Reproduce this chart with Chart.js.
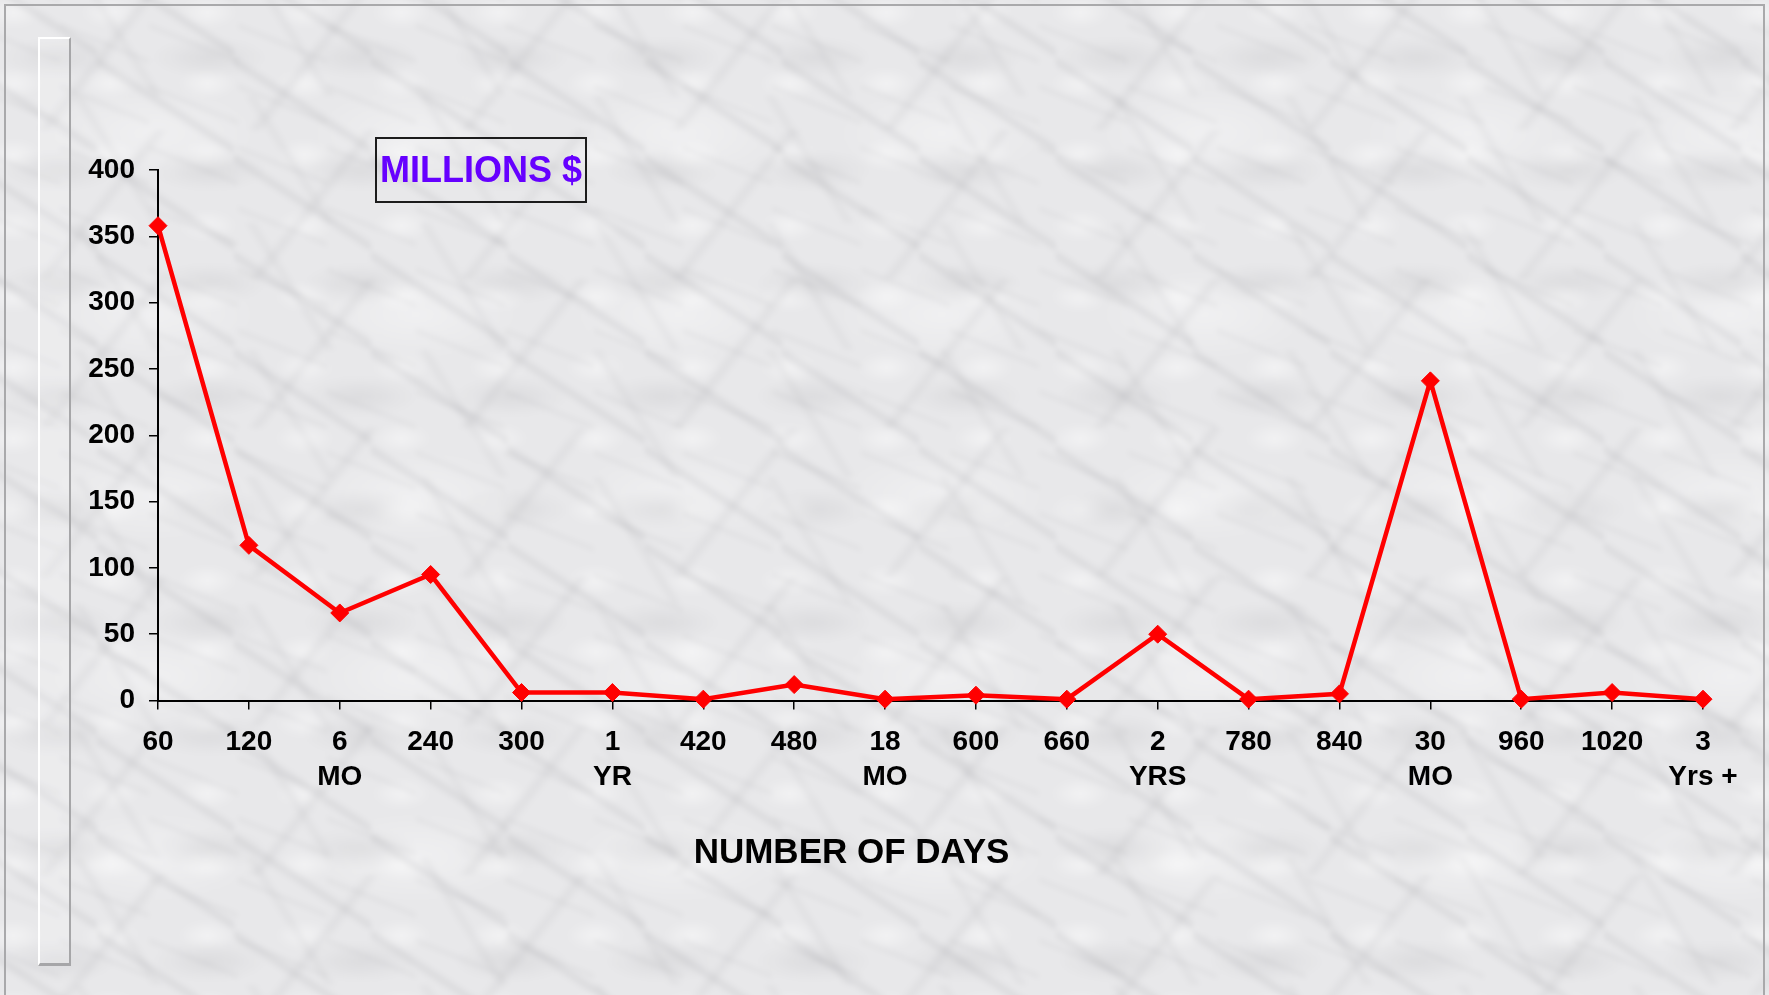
<!DOCTYPE html>
<html>
<head>
<meta charset="utf-8">
<script src="https://cdn.jsdelivr.net/npm/chart.js@4/dist/chart.umd.min.js"></script>
<style>
  html, body { margin: 0; padding: 0; width: 1769px; height: 995px; overflow: hidden; }
  body { position: relative; background-color: #e8e8ea; font-family: "Liberation Sans", Arial, sans-serif; }
  #marble {
    position: absolute; left: -40px; top: -40px; width: 1849px; height: 1075px;
    background-color: #e8e8ea;
    background-image:
      linear-gradient(33deg, rgba(120,120,126,0) 46%, rgba(120,120,126,0.12) 50%, rgba(120,120,126,0) 54%),
      linear-gradient(-52deg, rgba(120,120,126,0) 47%, rgba(120,120,126,0.08) 50%, rgba(120,120,126,0) 53%),
      linear-gradient(22deg, rgba(125,125,130,0) 46%, rgba(125,125,130,0.08) 50%, rgba(125,125,130,0) 54%),
      linear-gradient(58deg, rgba(125,125,130,0) 47%, rgba(125,125,130,0.07) 50%, rgba(125,125,130,0) 53%),
      radial-gradient(ellipse 38% 18% at 50% 50%, rgba(115,115,120,0.10), rgba(115,115,120,0) 100%),
      radial-gradient(ellipse 30% 22% at 50% 50%, rgba(255,255,255,0.45), rgba(255,255,255,0) 100%),
      radial-gradient(ellipse 40% 25% at 50% 50%, rgba(255,255,255,0.35), rgba(255,255,255,0) 100%);
    background-size: 137px 97px, 211px 149px, 89px 61px, 173px 127px, 151px 113px, 97px 71px, 263px 181px;
    background-position: 0 0, 37px 21px, 11px 53px, 71px 9px, 23px 41px, 5px 17px, 61px 83px;
    filter: blur(2.5px);
  }
  #frame {
    position: absolute; left: 4px; top: 4px; width: 1761px; height: 1000px;
    border-left: 2px solid #a9a9ab; border-top: 2px solid #a9a9ab; border-right: 2px solid #a9a9ab;
    box-sizing: border-box;
  }
  #bar {
    position: absolute; left: 38px; top: 37px; width: 33px; height: 929px;
    border-left: 2px solid #ffffff; border-top: 2px solid #ffffff;
    border-right: 2px solid #a6a6a8; border-bottom: 3px solid #a6a6a8;
    background: rgba(255,255,255,0.18);
    box-sizing: border-box;
  }
  #unit {
    position: absolute; left: 375px; top: 137px; width: 212px; height: 66px;
    border: 2px solid #1c1c1c; box-sizing: border-box;
    display: flex; align-items: center; justify-content: center;
    font: bold 36px "Liberation Sans", Arial, sans-serif; color: #6600ff;
    white-space: nowrap;
  }
  #wrap { position: absolute; left: 0; top: 0; width: 1769px; height: 995px; }
</style>
</head>
<body>
<div id="marble"></div>
<div id="frame"></div>
<div id="bar"></div>
<div id="wrap"><canvas id="c" width="1769" height="995"></canvas></div>
<div id="unit">MILLIONS $</div>
<script>
const categories = [
  '60', '120', ['6', 'MO'], '240', '300', ['1', 'YR'], '420', '480', ['18', 'MO'],
  '600', '660', ['2', 'YRS'], '780', '840', ['30', 'MO'], '960', '1020', ['3', 'Yrs +']
];
const amounts = [358, 117, 66, 95, 6, 6, 1, 12, 1, 4, 1, 50, 1, 5, 241, 1, 6, 1];
const yTicks = [0, 50, 100, 150, 200, 250, 300, 350, 400];
const xTitle = 'NUMBER OF DAYS';

const FONT = '"Liberation Sans", Arial, sans-serif';

new Chart(document.getElementById('c'), {
  type: 'line',
  data: {
    labels: categories,
    datasets: [{
      data: amounts,
      borderColor: '#ff0000',
      backgroundColor: '#ff0000',
      borderWidth: 4.5,
      tension: 0,
      pointStyle: 'rectRot',
      pointRadius: 9,
      pointHoverRadius: 9,
      pointBorderWidth: 1,
      pointBorderColor: '#ff0000',
      pointBackgroundColor: '#ff0000',
      clip: false
    }]
  },
  options: {
    responsive: false,
    devicePixelRatio: 1,
    animation: false,
    layout: { padding: { left: 0, right: 66, top: 170, bottom: 121 } },
    plugins: {
      legend: { display: false },
      tooltip: { enabled: false },
      title: {
        display: true,
        text: xTitle,
        position: 'bottom',
        color: '#000000',
        font: { family: FONT, size: 35, weight: 'bold', lineHeight: 1.2 },
        padding: { top: 37.5, bottom: 0 }
      }
    },
    scales: {
      x: {
        type: 'category',
        offset: false,
        grid: {
          display: true,
          drawOnChartArea: false,
          drawTicks: true,
          tickLength: 9,
          color: '#000000',
          lineWidth: 1.5
        },
        border: { display: true, color: '#000000', width: 2 },
        ticks: {
          autoSkip: false,
          maxRotation: 0,
          minRotation: 0,
          padding: 15,
          color: '#000000',
          font: { family: FONT, size: 28, weight: 'bold', lineHeight: 1.25 }
        },
        afterFit: (s) => { s.height = 94; }
      },
      y: {
        min: 0,
        max: 400,
        afterBuildTicks: (s) => { s.ticks = yTicks.map(v => ({ value: v })); },
        grid: {
          display: true,
          drawOnChartArea: false,
          drawTicks: true,
          tickLength: 9,
          color: '#000000',
          lineWidth: 1.5
        },
        border: { display: true, color: '#000000', width: 2 },
        ticks: {
          padding: 14,
          color: '#000000',
          font: { family: FONT, size: 28, weight: 'bold' }
        },
        afterFit: (s) => { s.width = 158; }
      }
    }
  }
});
</script>
</body>
</html>
